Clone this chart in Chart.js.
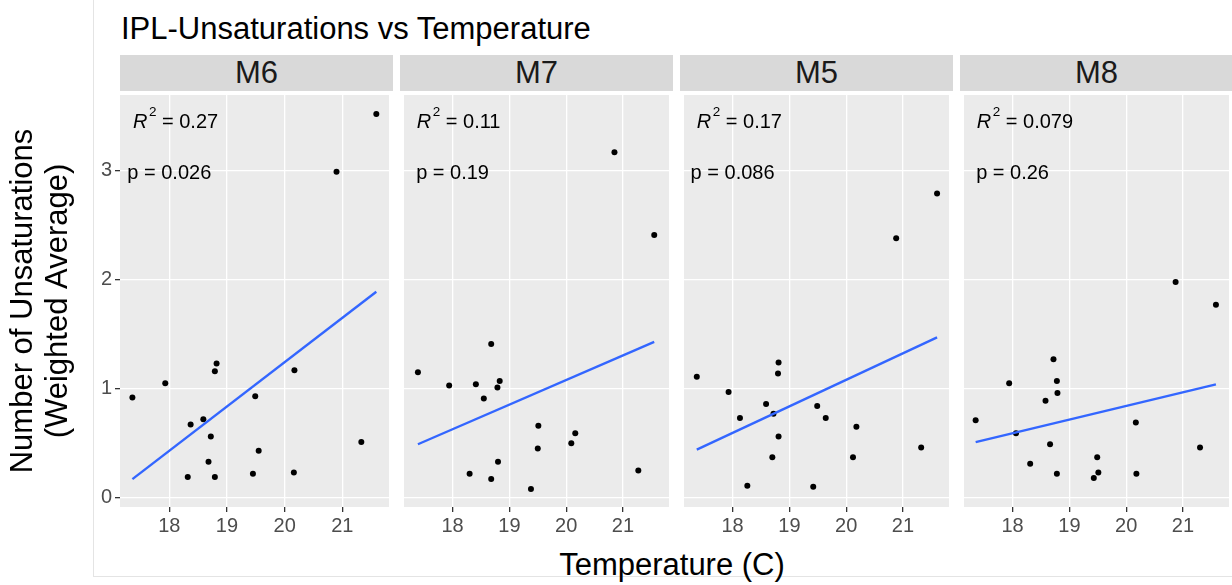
<!DOCTYPE html>
<html><head><meta charset="utf-8">
<script src="https://cdn.jsdelivr.net/npm/chart.js@4.4.0/dist/chart.umd.min.js"></script>
<style>
body{margin:0;background:#fff;width:1232px;height:585px;overflow:hidden;position:relative;font-family:"Liberation Sans",Arial,sans-serif;}
.abs{position:absolute;}
.strip{position:absolute;top:55px;height:36px;background:#D9D9D9;color:#1A1A1A;font-size:31px;line-height:36px;text-align:center;white-space:nowrap;}
.wrap{position:absolute;top:91px;}
canvas{display:block;}
</style></head><body>
<div class="abs" style="left:93px;top:-1px;width:1200px;height:577px;border-left:1px solid #e4e4e4;border-bottom:1px solid #e4e4e4;"></div>
<div class="abs" style="left:121px;top:13px;font-size:31px;line-height:1;color:#000;white-space:nowrap">IPL-Unsaturations vs Temperature</div>
<div class="abs" style="left:472px;width:400px;top:549px;font-size:31px;line-height:1;color:#000;text-align:center;white-space:nowrap">Temperature (C)</div>
<div id="strips"></div>
<div id="charts"></div>
<script>
// ---- data ----
const panels = ['M6', 'M7', 'M5', 'M8'];
const xTicks = [18, 19, 20, 21];
const yTicks = [0, 1, 2, 3];

const tempM6 = [17.36, 17.93, 18.37, 18.32, 18.59, 18.72, 18.68, 18.79, 18.79, 18.82, 19.49, 19.55, 19.45, 20.17, 20.16, 20.90, 21.33, 21.59];
const unsM6  = [0.92, 1.05, 0.67, 0.19, 0.72, 0.56, 0.33, 0.19, 1.16, 1.23, 0.93, 0.43, 0.22, 1.17, 0.23, 2.99, 0.51, 3.52];

const tempM7 = [17.39, 17.94, 18.41, 18.55, 18.68, 18.83, 18.79, 18.30, 18.68, 18.80, 19.38, 19.51, 19.50, 20.09, 20.16, 20.85, 21.27, 21.55];
const unsM7  = [1.15, 1.03, 1.04, 0.91, 1.41, 1.07, 1.01, 0.22, 0.17, 0.33, 0.08, 0.66, 0.45, 0.50, 0.59, 3.17, 0.25, 2.41];

const tempM5 = [17.37, 17.93, 18.13, 18.26, 18.59, 18.72, 18.70, 18.81, 18.80, 18.81, 19.42, 19.49, 19.64, 20.12, 20.18, 20.88, 21.32, 21.60];
const unsM5  = [1.11, 0.97, 0.73, 0.11, 0.86, 0.77, 0.37, 1.24, 1.14, 0.56, 0.10, 0.84, 0.73, 0.37, 0.65, 2.38, 0.46, 2.79];

const tempM8 = [17.35, 17.94, 18.06, 18.31, 18.58, 18.66, 18.72, 18.78, 18.79, 18.78, 19.43, 19.49, 19.51, 20.17, 20.18, 20.87, 21.30, 21.58];
const unsM8  = [0.71, 1.05, 0.59, 0.31, 0.89, 0.49, 1.27, 1.07, 0.96, 0.22, 0.18, 0.37, 0.23, 0.69, 0.22, 1.98, 0.46, 1.77];

// fitted line values at the lowest and highest temperature of each panel
const fitM6 = [0.17, 1.89];
const fitM7 = [0.49, 1.43];
const fitM5 = [0.44, 1.47];
const fitM8 = [0.51, 1.04];

const r2Labels = ['0.27', '0.11', '0.17', '0.079'];
const pLabels  = ['0.026', '0.19', '0.086', '0.26'];

// ---- layout ----
const FAMILY = "'Liberation Sans', Arial, sans-serif";
Chart.defaults.font.family = FAMILY;
const temps = [tempM6, tempM7, tempM5, tempM8];
const vals = [unsM6, unsM7, unsM5, unsM8];
const fits = [fitM6, fitM7, fitM5, fitM8];
const panelLeft = [120, 400, 680, 960];
const PANEL_W = 273;
const CANVAS_H = 449;
const X_MIN = 17.145, X_MAX = 21.81, Y_MIN = -0.086, Y_MAX = 3.695;

const bgPlugin = {
  id: 'panelBg',
  beforeDraw(chart) {
    const a = chart.chartArea, ctx = chart.ctx;
    ctx.save(); ctx.fillStyle = '#EBEBEB';
    ctx.fillRect(a.left, a.top, a.right - a.left, a.bottom - a.top);
    ctx.restore();
  }
};

const annPlugin = {
  id: 'statLabels',
  afterDatasetsDraw(chart) {
    const i = chart.options.plugins.statLabels.index;
    const xs = chart.scales.x, ys = chart.scales.y, ctx = chart.ctx;
    ctx.save();
    ctx.fillStyle = '#000';
    ctx.textBaseline = 'alphabetic';
    ctx.textAlign = 'left';
    let x = xs.getPixelForValue(17.37), y = ys.getPixelForValue(3.39);
    ctx.font = 'italic 20px ' + FAMILY;
    ctx.fillText('R', x, y);
    x += ctx.measureText('R').width + 1.5;
    ctx.font = '13.5px ' + FAMILY;
    ctx.fillText('2', x, y - 12);
    x += ctx.measureText('2').width;
    ctx.font = '20px ' + FAMILY;
    ctx.fillText(' = ' + r2Labels[i], x, y);
    ctx.textAlign = 'center';
    ctx.fillText('p = ' + pLabels[i], xs.getPixelForValue(18.0), ys.getPixelForValue(2.92));
    ctx.restore();
  }
};

const stripsEl = document.getElementById('strips');
const chartsEl = document.getElementById('charts');

panels.forEach((name, i) => {
  const s = document.createElement('div');
  s.className = 'strip';
  s.style.left = panelLeft[i] + 'px';
  s.style.width = PANEL_W + 'px';
  s.textContent = name;
  stripsEl.appendChild(s);

  const first = i === 0;
  const yW = first ? 120 : 0;
  const wrap = document.createElement('div');
  wrap.className = 'wrap';
  wrap.style.left = (panelLeft[i] - yW) + 'px';
  const cv = document.createElement('canvas');
  cv.width = PANEL_W + yW; cv.height = CANVAS_H;
  cv.style.width = cv.width + 'px'; cv.style.height = cv.height + 'px';
  wrap.appendChild(cv);
  chartsEl.appendChild(wrap);

  const t = temps[i], v = vals[i];
  const pts = t.map((tt, j) => ({ x: tt, y: v[j] }));
  const tMin = Math.min(...t), tMax = Math.max(...t);

  new Chart(cv, {
    type: 'scatter',
    data: {
      datasets: [
        { data: [{ x: tMin, y: fits[i][0] }, { x: tMax, y: fits[i][1] }], showLine: true,
          borderColor: '#3366FF', borderWidth: 2.4, pointRadius: 0, fill: false },
        { data: pts, pointRadius: 3, pointBackgroundColor: '#000', pointBorderWidth: 0, borderWidth: 0 }
      ]
    },
    options: {
      responsive: false, animation: false, devicePixelRatio: 1,
      layout: { padding: 0 },
      plugins: { legend: { display: false }, tooltip: { enabled: false }, title: { display: false },
                 statLabels: { index: i } },
      scales: {
        x: {
          type: 'linear', min: X_MIN, max: X_MAX,
          afterBuildTicks: sc => { sc.ticks = xTicks.map(val => ({ value: val })); },
          afterFit: sc => { sc.height = CANVAS_H - 416; sc.paddingLeft = 0; sc.paddingRight = 0; },
          grid: { color: '#FFFFFF', lineWidth: 1.3, tickColor: '#333333', tickLength: 5, drawTicks: true },
          border: { display: false },
          ticks: { color: '#4D4D4D', font: { size: 20 }, padding: 2, maxRotation: 0 }
        },
        y: {
          type: 'linear', min: Y_MIN, max: Y_MAX,
          afterBuildTicks: sc => { sc.ticks = yTicks.map(val => ({ value: val })); },
          afterFit: sc => { sc.width = yW; sc.paddingTop = 0; sc.paddingBottom = 0; },
          grid: { color: '#FFFFFF', lineWidth: 1.3, tickColor: '#333333', tickLength: 5, drawTicks: first },
          border: { display: false },
          ticks: { display: first, color: '#4D4D4D', font: { size: 20 }, padding: 3 },
          title: first ? { display: true, text: ['Number of Unsaturations', '(Weighted Average)'],
                   color: '#000', font: { size: 31, lineHeight: 1.13 }, padding: { top: 6, bottom: 0 } }
                : { display: false }
        }
      }
    },
    plugins: [bgPlugin, annPlugin]
  });
});
</script>
</body></html>
